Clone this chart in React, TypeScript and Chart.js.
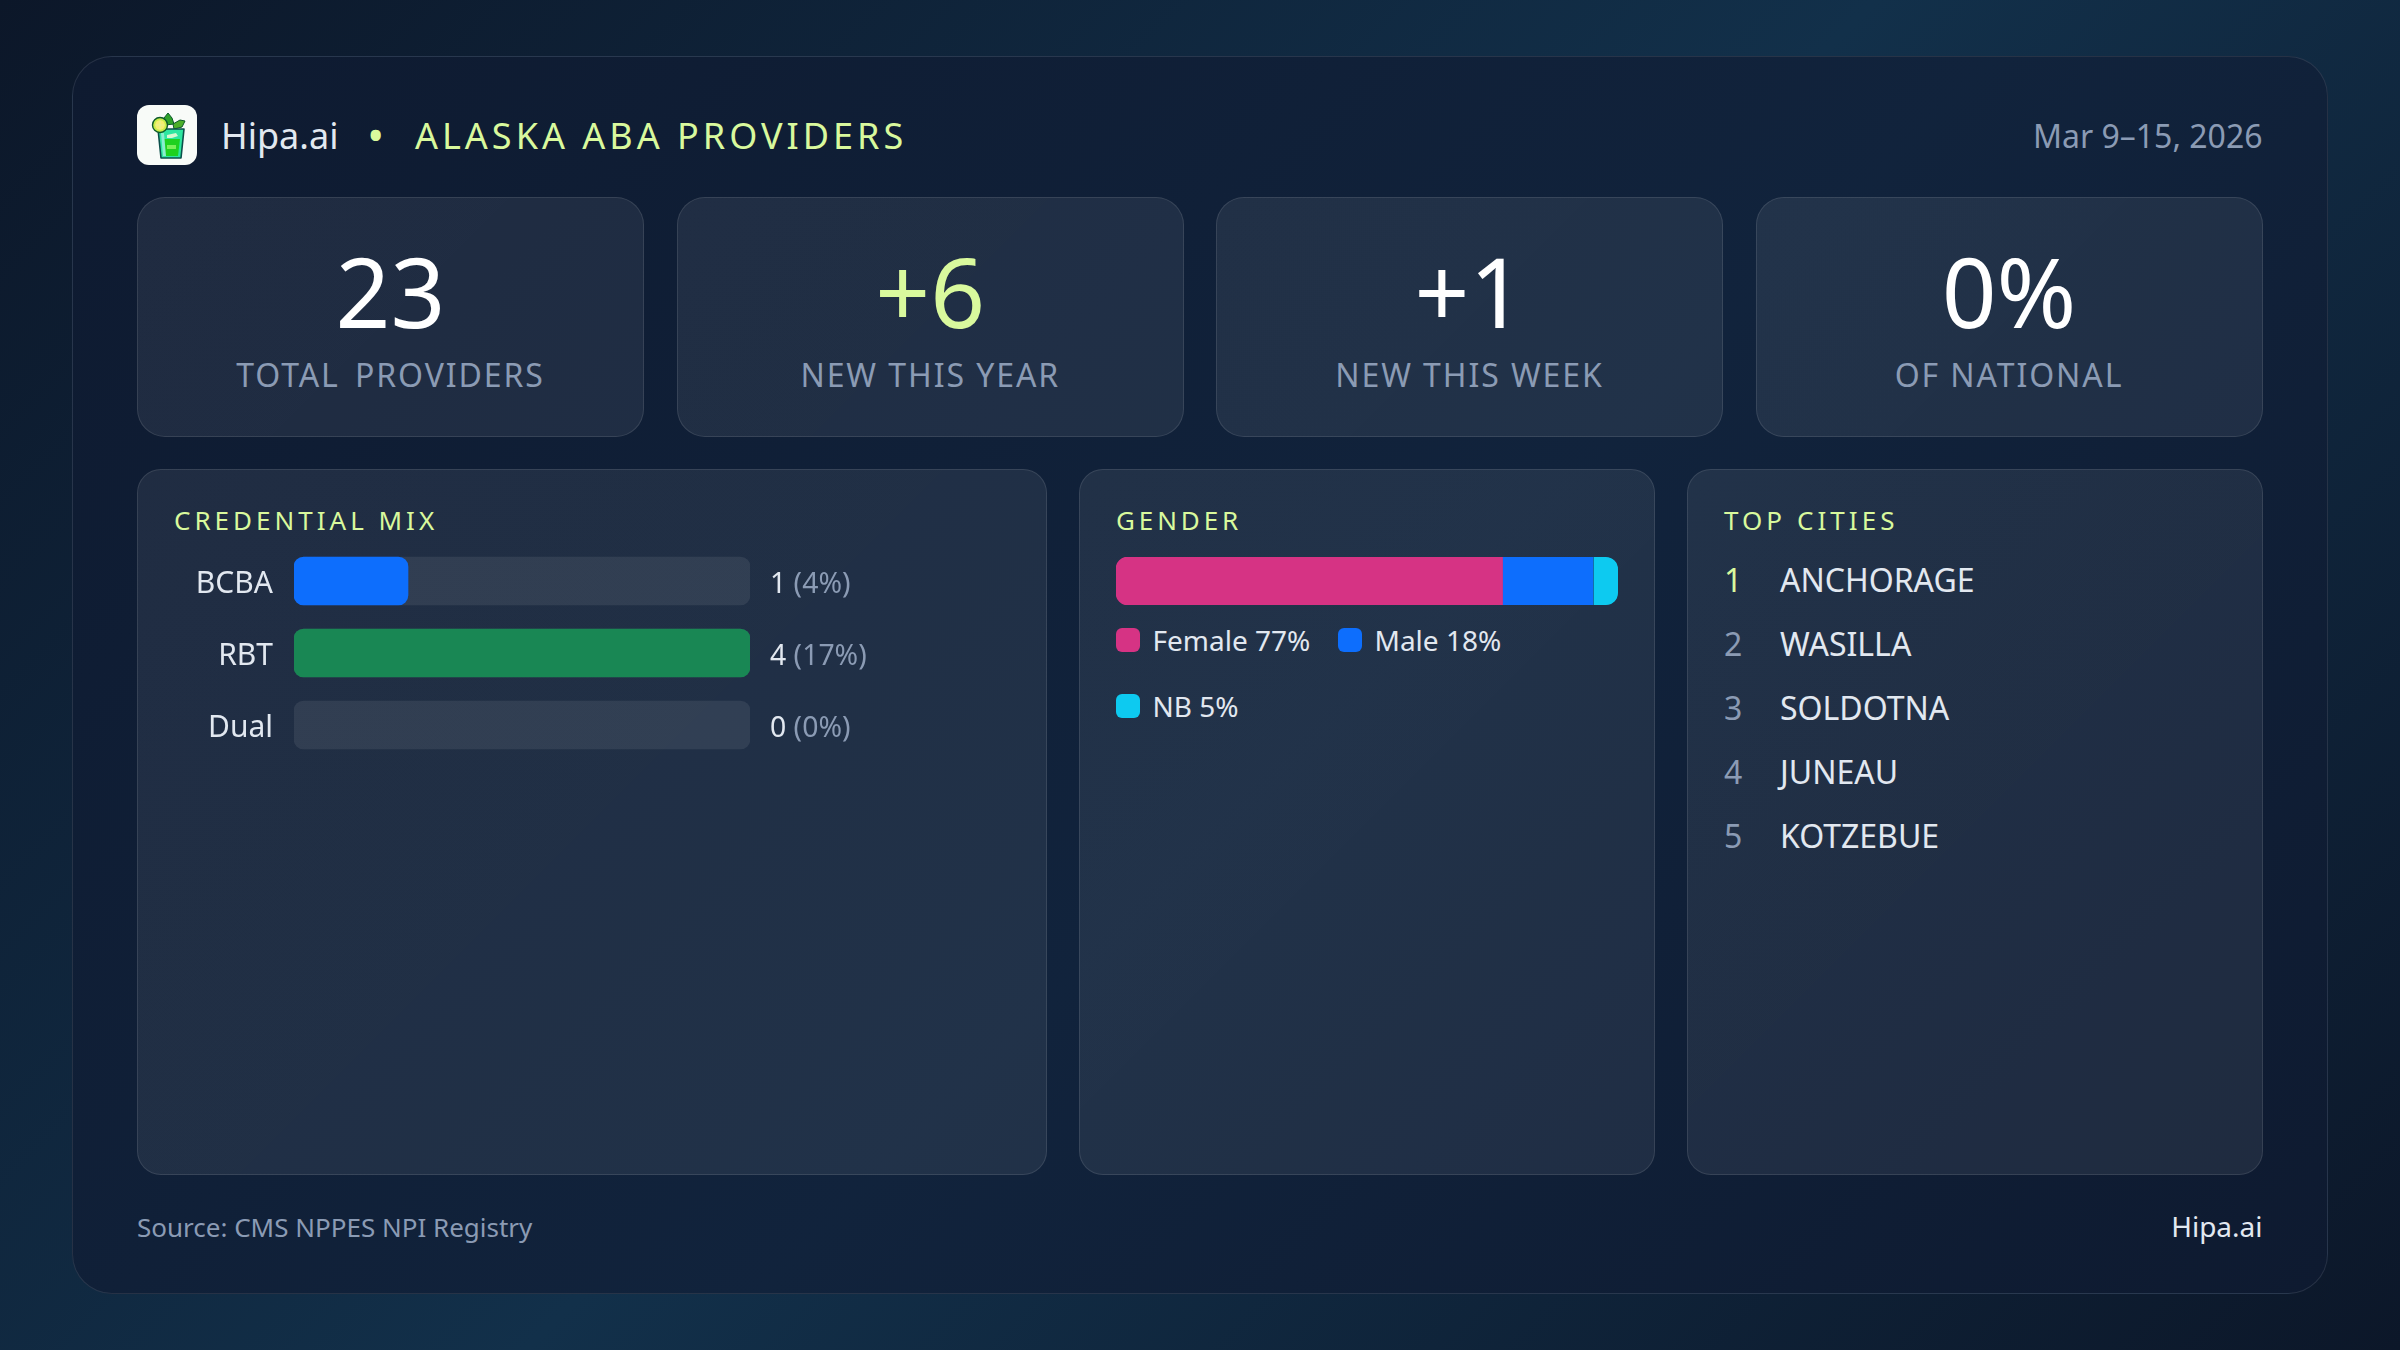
import React, { useEffect, useRef } from "react";
import { Chart, registerables } from "chart.js";

Chart.register(...registerables);

const FONT = '"Noto Sans", sans-serif';
const LIME = "#d9f99d";
const WHITE = "#ffffff";
const LIGHT = "#e2e8f0";
const MUTED = "#8b9bb4";

const brandName = "Hipa.ai";
const reportTitle = "ALASKA ABA PROVIDERS";
const dateRange = "Mar 9–15, 2026";
const sourceText = "Source: CMS NPPES NPI Registry";

const statValues = ["23", "+6", "+1", "0%"];
const statLabels = ["TOTAL PROVIDERS", "NEW THIS YEAR", "NEW THIS WEEK", "OF NATIONAL"];
const statColors = [WHITE, LIME, WHITE, WHITE];

const credentialLabels = ["BCBA", "RBT", "Dual"];
const credentialCounts = [1, 4, 0];
const credentialShares = [4, 17, 0];
const credentialTrack = [4, 4, 4];
const credentialColors = ["#0d6efd", "#198754", "rgba(0,0,0,0)"];

const genderLabels = ["Female", "Male", "NB"];
const genderValues = [77, 18, 5];
const genderColors = ["#d63384", "#0d6efd", "#0dcaf0"];

const cityNames = ["ANCHORAGE", "WASILLA", "SOLDOTNA", "JUNEAU", "KOTZEBUE"];

function Txt(props: {
  x: number;
  base: number;
  size: number;
  color: string;
  align?: "left" | "right" | "center";
  ls?: number;
  ws?: number;
  children: React.ReactNode;
}) {
  const { x, base, size, color, align = "left", ls = 0, ws = 0, children } = props;
  const style: React.CSSProperties = {
    position: "absolute",
    top: base - size * 0.888,
    fontSize: size,
    lineHeight: `${size}px`,
    color,
    letterSpacing: ls,
    wordSpacing: ws,
    whiteSpace: "nowrap",
    fontFamily: FONT,
  };
  if (align === "left") style.left = x;
  if (align === "right") style.right = 2400 - x;
  if (align === "center") {
    style.left = x - 400;
    style.width = 800;
    style.textAlign = "center";
  }
  return <div style={style}>{children}</div>;
}

function Box(props: { x: number; y: number; w: number; h: number; r: number }) {
  const { x, y, w, h, r } = props;
  return (
    <div
      style={{
        position: "absolute",
        left: x,
        top: y,
        width: w,
        height: h,
        boxSizing: "border-box",
        borderRadius: r,
        background:
          "linear-gradient(135deg, rgba(255,255,255,0.075) 0%, rgba(255,255,255,0.07) 100%)",
        border: "1.5px solid rgba(255,255,255,0.10)",
      }}
    />
  );
}

const valueLabelPlugin = {
  id: "valueLabels",
  afterDatasetsDraw(chart: any) {
    const ctx = chart.ctx;
    const yScale = chart.scales.y;
    const x = 770 - 150;
    ctx.save();
    ctx.font = `28.4px ${FONT}`;
    ctx.textBaseline = "alphabetic";
    credentialLabels.forEach((_, i) => {
      const y = yScale.getPixelForTick(i) + 11.5;
      const head = String(credentialCounts[i]);
      ctx.fillStyle = LIGHT;
      ctx.fillText(head, x, y);
      const w = ctx.measureText(head + " ").width;
      ctx.fillStyle = MUTED;
      ctx.fillText(`(${credentialShares[i]}%)`, x + w, y);
    });
    ctx.restore();
  },
};

function CredentialChart() {
  const ref = useRef<HTMLCanvasElement>(null);
  useEffect(() => {
    const chart = new Chart(ref.current!, {
      type: "bar",
      data: {
        labels: credentialLabels,
        datasets: [
          {
            data: credentialCounts,
            backgroundColor: credentialColors,
            borderRadius: 10,
            borderSkipped: false,
            barThickness: 48,
            grouped: false,
          } as any,
          {
            data: credentialTrack,
            backgroundColor: "rgba(255,255,255,0.08)",
            borderRadius: 10,
            borderSkipped: false,
            barThickness: 48,
            grouped: false,
          } as any,
        ],
      },
      options: {
        indexAxis: "y",
        animation: false,
        responsive: false,
        devicePixelRatio: 1,
        layout: { autoPadding: false, padding: { right: 290 } },
        plugins: { legend: { display: false }, tooltip: { enabled: false } },
        scales: {
          x: { min: 0, max: 4, display: false },
          y: {
            afterFit(s: any) {
              s.width = 144;
              s.paddingTop = 0;
              s.paddingBottom = 0;
            },
            grid: { display: false, drawTicks: false },
            border: { display: false },
            ticks: {
              color: LIGHT,
              padding: 21,
              labelOffset: 3,
              font: { family: "Noto Sans", size: 30 },
            },
          },
        },
      } as any,
      plugins: [valueLabelPlugin],
    });
    return () => chart.destroy();
  }, []);
  return (
    <canvas
      ref={ref}
      width={890}
      height={216}
      style={{ position: "absolute", left: 150, top: 545, width: 890, height: 216 }}
    />
  );
}

function GenderChart() {
  const ref = useRef<HTMLCanvasElement>(null);
  useEffect(() => {
    const last = genderLabels.length - 1;
    const chart = new Chart(ref.current!, {
      type: "bar",
      data: {
        labels: ["Gender"],
        datasets: genderLabels.map((label, i) => ({
          label,
          data: [genderValues[i]],
          backgroundColor: genderColors[i],
          barPercentage: 1,
          categoryPercentage: 1,
          borderSkipped: false,
          borderWidth: i === last ? { left: 1, top: 0, right: 0, bottom: 0 } : 0,
          borderColor: "#1f2e45",
          borderRadius:
            i === 0
              ? { topLeft: 12, bottomLeft: 12, topRight: 0, bottomRight: 0 }
              : i === last
              ? { topLeft: 0, bottomLeft: 0, topRight: 12, bottomRight: 12 }
              : 0,
        })),
      },
      options: {
        indexAxis: "y",
        animation: false,
        responsive: false,
        devicePixelRatio: 1,
        plugins: { legend: { display: false }, tooltip: { enabled: false } },
        scales: {
          x: { stacked: true, min: 0, max: 100, display: false },
          y: { stacked: true, display: false },
        },
      } as any,
    });
    return () => chart.destroy();
  }, []);
  return (
    <canvas
      ref={ref}
      width={502}
      height={48}
      style={{ position: "absolute", left: 1116, top: 557, width: 502, height: 48 }}
    />
  );
}

function Logo() {
  return (
    <svg
      width={60}
      height={60}
      viewBox="0 0 60 60"
      style={{ position: "absolute", left: 137, top: 105 }}
    >
      <rect width={60} height={60} rx={12} fill="#f8fbf8" />
      <path d="M31 8l4 5 2 6-9 1-1-7z" fill="#2fa32b" stroke="#0b5a2a" strokeWidth={1} />
      <path d="M36 19l7-4 5 1-3 6-8 2z" fill="#4caf2a" stroke="#0b5a2a" strokeWidth={1} />
      <path
        d="M21 24h26l-3 29h-20z"
        fill="#2ee6a0"
        stroke="#0b4f4a"
        strokeWidth={1.6}
        strokeLinejoin="round"
      />
      <path d="M26 34h17l-2 17h-13z" fill="#1fd11f" />
      <path d="M30 30l9-2 2 3-6 2-5 0z" fill="#d8f8d0" />
      <path d="M30 40h9v4h-9z" fill="#7cf05a" />
      <path d="M24 28l3 0 2 23-3 0z" fill="#8aeecf" />
      <circle cx={23} cy={20} r={7.5} fill="#c8ee4a" stroke="#0b5a2a" strokeWidth={1.4} />
      <circle cx={23} cy={20} r={4.8} fill="#f4ee70" />
      <path d="M23 15.5v9M18.5 20h9" stroke="#dff59a" strokeWidth={0.8} />
    </svg>
  );
}

export default function App() {
  const cardXs = [137, 676.75, 1216, 1755.5];
  const cardW = 507;
  const legendItems = [
    { x: 1116, y: 628, t: 1152.5 },
    { x: 1338, y: 628, t: 1374.5 },
    { x: 1116, y: 694, t: 1152.5 },
  ];
  const right = 2262.5;
  return (
    <div
      style={{
        position: "fixed",
        left: 0,
        top: 0,
        width: 2400,
        height: 1350,
        overflow: "hidden",
        fontFamily: FONT,
        background: "linear-gradient(135deg, #0c1729 0%, #12304a 50%, #0c1729 100%)",
      }}
    >
      <div
        style={{
          position: "absolute",
          left: 72,
          top: 56,
          width: 2256,
          height: 1238,
          boxSizing: "border-box",
          borderRadius: 40,
          background: "linear-gradient(135deg, #0e1a30 0%, #11233c 55%, #0e1a30 100%)",
          border: "1.5px solid rgba(255,255,255,0.10)",
        }}
      />
      <Logo />
      <Txt x={221} base={150} size={36} color={LIGHT}>
        {brandName}
      </Txt>
      <Txt x={367} base={152} size={46} color={LIME}>
        •
      </Txt>
      <Txt x={415} base={150} size={36} color={LIME} ls={4.0}>
        {reportTitle}
      </Txt>
      <Txt x={right} base={148} size={32} color={MUTED} align="right">
        {dateRange}
      </Txt>

      {statValues.map((v, i) => (
        <React.Fragment key={v}>
          <Box x={cardXs[i]} y={197} w={cardW} h={240} r={28} />
          <Txt x={cardXs[i] + cardW / 2} base={328} size={96} color={statColors[i]} align="center">
            {v}
          </Txt>
          <Txt
            x={cardXs[i] + cardW / 2}
            base={387}
            size={32}
            color={MUTED}
            align="center"
            ls={1.92}
            ws={i === 0 ? 5 : 0}
          >
            {statLabels[i]}
          </Txt>
        </React.Fragment>
      ))}

      <Box x={137} y={469} w={910} h={706} r={24} />
      <Box x={1079} y={469} w={576} h={706} r={24} />
      <Box x={1687} y={469} w={575.5} h={706} r={24} />

      <Txt x={174} base={530} size={26} color={LIME} ls={4.0}>
        CREDENTIAL MIX
      </Txt>
      <Txt x={1116} base={530} size={26} color={LIME} ls={3.9}>
        GENDER
      </Txt>
      <Txt x={1724} base={530} size={26} color={LIME} ls={4.05}>
        TOP CITIES
      </Txt>

      <CredentialChart />
      <GenderChart />

      {genderLabels.map((g, i) => (
        <React.Fragment key={g}>
          <div
            style={{
              position: "absolute",
              left: legendItems[i].x,
              top: legendItems[i].y,
              width: 24,
              height: 24,
              borderRadius: 6,
              background: genderColors[i],
            }}
          />
          <Txt x={legendItems[i].t} base={legendItems[i].y + 23} size={28} color={LIGHT}>
            {g} {genderValues[i]}%
          </Txt>
        </React.Fragment>
      ))}

      {cityNames.map((c, i) => (
        <React.Fragment key={c}>
          <Txt x={1724} base={592 + i * 64} size={32} color={i === 0 ? LIME : MUTED}>
            {i + 1}
          </Txt>
          <Txt x={1780} base={592 + i * 64} size={32} color={LIGHT}>
            {c}
          </Txt>
        </React.Fragment>
      ))}

      <Txt x={137} base={1237.5} size={26} color={MUTED}>
        {sourceText}
      </Txt>
      <Txt x={right} base={1237} size={28} color={LIGHT} align="right">
        {brandName}
      </Txt>
    </div>
  );
}
